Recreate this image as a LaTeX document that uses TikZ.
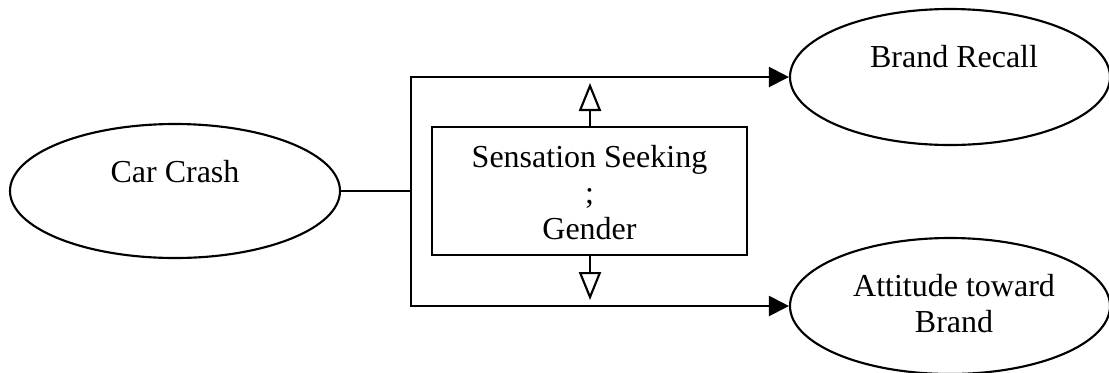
\documentclass[tikz,border=0pt]{standalone}
\usepackage{fontspec}
\setmainfont{Liberation Serif}
\usetikzlibrary{arrows.meta,shapes.geometric}
\begin{document}
\begin{tikzpicture}[x=0.375pt,y=-0.375pt,line width=0.8pt,
  oval/.style={draw,ellipse,inner sep=0pt,minimum width=#1,minimum height=51pt},
  lbl/.style={font=\fontsize{12}{13.5}\selectfont,align=center,inner sep=0pt},
  modbox/.style={draw,rectangle,minimum width=118pt,minimum height=48pt,inner sep=0pt,
    font=\fontsize{12}{13.5}\selectfont,align=center},
  fwd/.style={-{Triangle[length=7.5pt,width=7.5pt]}},
  mod/.style={-{Triangle[open,length=10.5pt,width=8.3pt]}}]
\useasboundingbox (0,0) rectangle (1109,372);
% outcome and predictor ellipses
\node[oval=123.75pt,minimum height=50.25pt] (cc) at (175,191) {};
\node[oval=120pt] (br) at (950,77) {};
\node[oval=120pt] (ab) at (950,306) {};
\node[lbl] (cct) at (175,172) {Car Crash};
\node[lbl] (brt) at (954,57) {Brand Recall};
\node[lbl] (abt) at (954,304) {Attitude toward\\Brand};
% moderator box
\node[modbox] (sg) at (589.5,191) {\strut Sensation Seeking\\;\\Gender};
% paths from the predictor
\coordinate (j) at (411,191);
\draw (cc.east) -- (j);
\draw[fwd] (j) |- (br.west);
\draw[fwd] (j) |- (ab.west);
% moderator arrows
\coordinate (up) at (590,83);
\coordinate (dn) at (590,300);
\draw[mod] (sg.north -| up) -- (up);
\draw[mod] (sg.south -| dn) -- (dn);
\end{tikzpicture}
\end{document}
